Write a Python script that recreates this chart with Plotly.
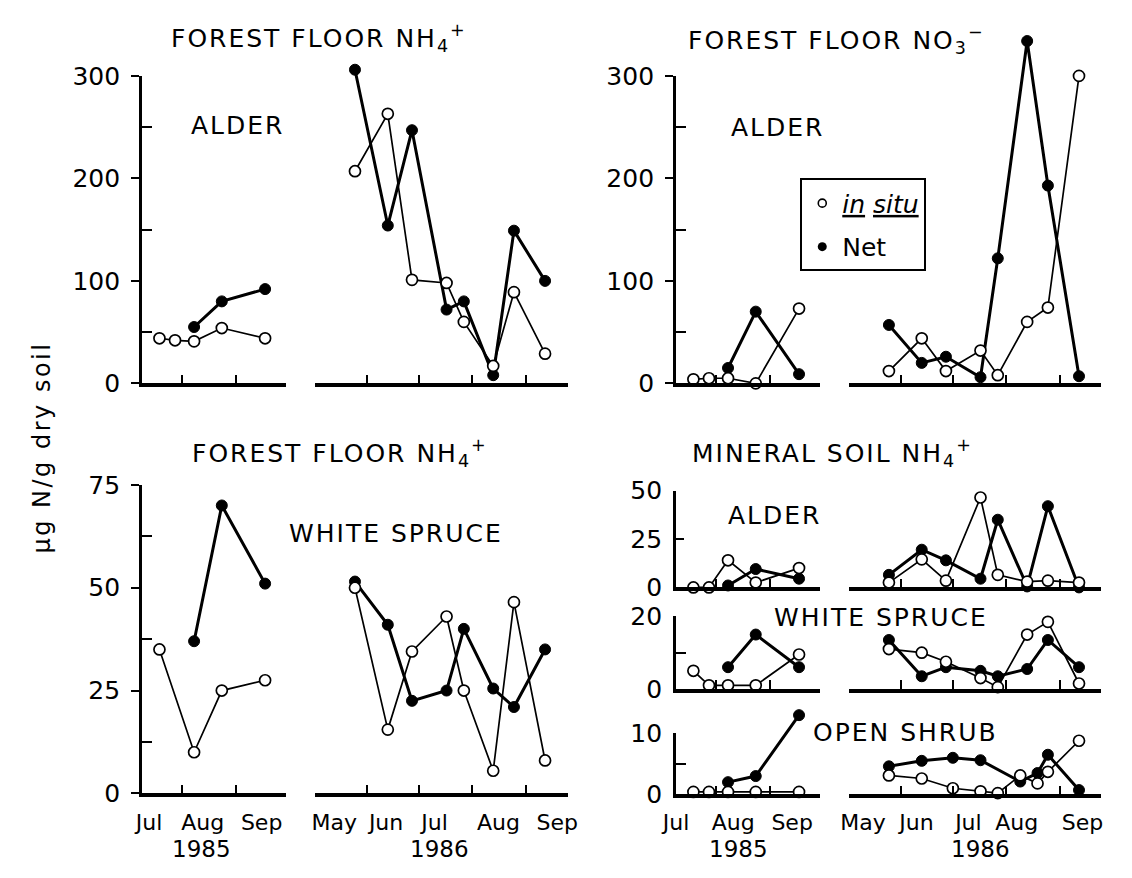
import plotly.graph_objects as go

# ======================= DATA =======================
DATES_1985_INSITU = ["1985-07-19", "1985-07-28", "1985-08-08", "1985-08-24", "1985-09-18"]
DATES_1985_NET = ["1985-08-08", "1985-08-24", "1985-09-18"]
DATES_1986 = ["1986-05-25", "1986-06-13", "1986-06-27", "1986-07-17",
              "1986-07-27", "1986-08-13", "1986-08-25", "1986-09-12"]
DATES_1986_SHRUB = ["1986-05-25", "1986-06-13", "1986-07-01", "1986-07-17", "1986-07-27",
                    "1986-08-09", "1986-08-19", "1986-08-25", "1986-09-12"]

MONTHS_1985 = ["Jul", "Aug", "Sep"]
MONTHS_1986 = ["May", "Jun", "Jul", "Aug", "Sep"]
MONTH_STARTS_1985 = ["1985-08-01", "1985-09-01"]
MONTH_STARTS_1986 = ["1986-06-01", "1986-07-01", "1986-08-01", "1986-09-01"]
YEARS = ["1985", "1986"]

# Forest floor NH4+, alder
FF_NH4_ALDER_INSITU_85 = [44, 42, 41, 54, 44]
FF_NH4_ALDER_NET_85 = [55, 80, 92]
FF_NH4_ALDER_INSITU_86 = [207, 263, 101, 98, 60, 17, 89, 29]
FF_NH4_ALDER_NET_86 = [306, 154, 247, 72, 80, 8, 149, 100]

# Forest floor NO3-, alder
FF_NO3_ALDER_INSITU_85 = [4, 5, 5, 0, 73]
FF_NO3_ALDER_NET_85 = [15, 70, 9]
FF_NO3_ALDER_INSITU_86 = [12, 44, 12, 32, 8, 60, 74, 300]
FF_NO3_ALDER_NET_86 = [57, 20, 26, 6, 122, 334, 193, 7]

# Forest floor NH4+, white spruce
FF_NH4_SPRUCE_INSITU_85 = [35, None, 10, 25, 27.5]
FF_NH4_SPRUCE_NET_85 = [37, 70, 51]
FF_NH4_SPRUCE_INSITU_86 = [50, 15.5, 34.5, 43, 25, 5.5, 46.5, 8]
FF_NH4_SPRUCE_NET_86 = [51.5, 41, 22.5, 25, 40, 25.5, 21, 35]

# Mineral soil NH4+, alder
MS_ALDER_INSITU_85 = [0, 0, 14, 2.5, 10]
MS_ALDER_NET_85 = [1, 9.5, 4.5]
MS_ALDER_INSITU_86 = [2.5, 14.5, 3.5, 46.5, 6.5, 3, 3.5, 2.5]
MS_ALDER_NET_86 = [6.5, 19.5, 14, 4.5, 35, 0.5, 42, 0]

# Mineral soil NH4+, white spruce
MS_SPRUCE_INSITU_85 = [5, 1, 1, 1, 9.5]
MS_SPRUCE_NET_85 = [6, 15, 6]
MS_SPRUCE_INSITU_86 = [11, 10, 7.5, 3, 0.5, 15, 18.5, 1.5]
MS_SPRUCE_NET_86 = [13.5, 3.5, 6, 5, 3.5, 5.5, 13.5, 6]

# Mineral soil NH4+, open shrub
MS_SHRUB_INSITU_85 = [0.4, 0.4, 0.4, 0.4, 0.4]
MS_SHRUB_NET_85 = [2, 3, 13]
MS_SHRUB_INSITU_86 = [3.1, 2.6, 1.0, 0.5, 0.2, 3.1, 1.8, 3.7, 8.8]
MS_SHRUB_NET_86 = [4.6, 5.5, 6.0, 5.6, None, 2.1, 3.5, 6.5, 0.7]

# ======================= LAYOUT =======================
W, H = 1132, 878
FONT = "DejaVu Sans"
BLACK = "black"


def fx(px):
    return px / W


def fy(py):
    return 1 - py / H


COLS = {
    "L": dict(x85=(130, 277), x86=(307, 565)),
    "R": dict(x85=(676, 823), x86=(853, 1111)),
}
RANGE_85 = ["1985-07-09", "1985-09-30"]
RANGE_86 = ["1986-05-02", "1986-09-25"]

panels = [
    dict(col="L", y0=382, ytop=64, axis_top=300, data_top=315,
         yticks=[0, 100, 200, 300], yminor=[50, 150, 250], major="outside",
         is85=FF_NH4_ALDER_INSITU_85, n85=FF_NH4_ALDER_NET_85,
         is86=FF_NH4_ALDER_INSITU_86, n86=FF_NH4_ALDER_NET_86, d86=DATES_1986,
         labels=None),
    dict(col="R", y0=382, ytop=64, axis_top=300, data_top=345,
         yticks=[0, 100, 200, 300], yminor=[50, 150, 250], major="outside",
         is85=FF_NO3_ALDER_INSITU_85, n85=FF_NO3_ALDER_NET_85,
         is86=FF_NO3_ALDER_INSITU_86, n86=FF_NO3_ALDER_NET_86, d86=DATES_1986,
         labels=None),
    dict(col="L", y0=806, ytop=487, axis_top=75, data_top=75,
         yticks=[0, 25, 50, 75], yminor=[12.5, 37.5, 62.5], major="outside",
         is85=FF_NH4_SPRUCE_INSITU_85, n85=FF_NH4_SPRUCE_NET_85,
         is86=FF_NH4_SPRUCE_INSITU_86, n86=FF_NH4_SPRUCE_NET_86, d86=DATES_1986,
         labels=(["1985-07-13", "1985-08-13", "1985-09-16"],
                 ["1986-05-13", "1986-06-12", "1986-07-10", "1986-08-16", "1986-09-19"])),
    dict(col="R", y0=593, ytop=493, axis_top=50, data_top=50,
         yticks=[0, 25, 50], yminor=[], major="inside",
         is85=MS_ALDER_INSITU_85, n85=MS_ALDER_NET_85,
         is86=MS_ALDER_INSITU_86, n86=MS_ALDER_NET_86, d86=DATES_1986,
         labels=None),
    dict(col="R", y0=698, ytop=623, axis_top=20, data_top=20,
         yticks=[0, 20], yminor=[10], major="inside",
         is85=MS_SPRUCE_INSITU_85, n85=MS_SPRUCE_NET_85,
         is86=MS_SPRUCE_INSITU_86, n86=MS_SPRUCE_NET_86, d86=DATES_1986,
         labels=None),
    dict(col="R", y0=807, ytop=744, axis_top=10, data_top=14,
         yticks=[0, 10], yminor=[5], major="inside",
         is85=MS_SHRUB_INSITU_85, n85=MS_SHRUB_NET_85,
         is86=MS_SHRUB_INSITU_86, n86=MS_SHRUB_NET_86, d86=DATES_1986_SHRUB,
         labels=(["1985-07-09", "1985-08-11", "1985-09-14"],
                 ["1986-05-10", "1986-06-10", "1986-07-10", "1986-08-07", "1986-09-14"])),
]

INSITU_MARKER = dict(symbol="circle", size=11, color="white", line=dict(color=BLACK, width=1.7))
NET_MARKER = dict(symbol="circle", size=11, color=BLACK, line=dict(color=BLACK, width=1))
INSITU_LINE = dict(color=BLACK, width=1.7)
NET_LINE = dict(color=BLACK, width=3)

fig = go.Figure()
layout = dict()


def axname(prefix, n):
    return prefix + ("" if n == 1 else str(n))


for i, p in enumerate(panels):
    c = COLS[p["col"]]
    xa85, xa86 = 2 * i + 1, 2 * i + 2
    yd, yt = 2 * i + 1, 2 * i + 2
    scale = (p["y0"] - p["ytop"]) / p["axis_top"]
    data_top_px = p["y0"] - p["data_top"] * scale

    # hidden data axis (may extend above the drawn axis)
    layout[axname("yaxis", yd)] = dict(
        domain=[fy(p["y0"]), fy(data_top_px)], range=[0, p["data_top"]],
        visible=False, anchor=axname("x", xa85), fixedrange=True)
    # visible tick axis
    layout[axname("yaxis", yt)] = dict(
        domain=[fy(p["y0"]), fy(p["ytop"])], range=[0, p["axis_top"]],
        anchor=axname("x", xa85), side="left",
        showline=True, linewidth=3, linecolor=BLACK,
        showgrid=False, zeroline=False,
        tickmode="array", tickvals=p["yticks"], ticktext=[str(v) for v in p["yticks"]],
        ticks=p["major"], ticklen=8, tickwidth=2, tickcolor=BLACK,
        ticklabelstandoff=6,
        minor=dict(tickmode="array", tickvals=p["yminor"], ticks="inside",
                   ticklen=10, tickwidth=2, tickcolor=BLACK, showgrid=False),
        tickfont=dict(size=25, color=BLACK, family=FONT), fixedrange=True)

    for xa, dom, rng, starts, yr in ((xa85, c["x85"], RANGE_85, MONTH_STARTS_1985, 0),
                                     (xa86, c["x86"], RANGE_86, MONTH_STARTS_1986, 1)):
        ax = dict(type="date", domain=[fx(dom[0]), fx(dom[1])], range=rng,
                  anchor=axname("y", yt), showline=True, linewidth=3.5, linecolor=BLACK,
                  showgrid=False, zeroline=False, ticks="",
                  minor=dict(tickmode="array", tickvals=starts, ticks="inside",
                             ticklen=9, tickwidth=1.6, tickcolor=BLACK, showgrid=False),
                  fixedrange=True)
        if p["labels"]:
            ax.update(tickmode="array", tickvals=p["labels"][yr],
                      ticktext=MONTHS_1985 if yr == 0 else MONTHS_1986,
                      showticklabels=True, ticklabelstandoff=6,
                      tickfont=dict(size=22, color=BLACK, family=FONT))
        else:
            ax.update(showticklabels=False)
        layout[axname("xaxis", xa)] = ax

    # empty trace registering the tick-axis subplot
    fig.add_trace(go.Scatter(x=[None], y=[None], xaxis=axname("x", xa85), yaxis=axname("y", yt),
                             showlegend=False, hoverinfo="skip"))

    series = [
        (DATES_1985_NET, p["n85"], xa85, NET_LINE, NET_MARKER),
        (DATES_1985_INSITU, p["is85"], xa85, INSITU_LINE, INSITU_MARKER),
        (p["d86"], p["n86"], xa86, NET_LINE, NET_MARKER),
        (p["d86"], p["is86"], xa86, INSITU_LINE, INSITU_MARKER),
    ]
    for dates, vals, xa, ln, mk in series:
        fig.add_trace(go.Scatter(
            x=dates, y=vals, mode="lines+markers", line=ln, marker=mk,
            connectgaps=True, cliponaxis=False, showlegend=False,
            xaxis=axname("x", xa), yaxis=axname("y", yd)))

# legend entries
fig.add_trace(go.Scatter(x=[None], y=[None], mode="markers", name="<i><u>in</u> <u>situ</u></i>",
                         marker=dict(symbol="circle", size=8, color="white",
                                     line=dict(color=BLACK, width=1.6)),
                         legendgroup="a"))
fig.add_trace(go.Scatter(x=[None], y=[None], mode="markers", name="Net",
                         marker=dict(symbol="circle", size=9, color=BLACK),
                         legendgroup="b"))


def ann(text, x, y, size=25, **kw):
    d = dict(text=text, x=fx(x), y=fy(y), xref="paper", yref="paper", showarrow=False,
             font=dict(size=size, color=BLACK, family=FONT), xanchor="center", yanchor="middle")
    d.update(kw)
    return d


def spaced(t, px=2.0):
    return '<span style="letter-spacing:%spx">' % px + t + "</span>"


annotations = [
    ann(spaced("FOREST FLOOR NH<sub>4</sub><sup>+</sup>"), 311, 25),
    ann(spaced("FOREST FLOOR NO<sub>3</sub><sup>−</sup>"), 840, 27),
    ann(spaced("FOREST FLOOR NH<sub>4</sub><sup>+</sup>"), 332, 454),
    ann(spaced("MINERAL SOIL NH<sub>4</sub><sup>+</sup>"), 836, 454),
    ann(spaced("ALDER"), 228, 115),
    ann(spaced("ALDER"), 780, 117),
    ann(spaced("WHITE SPRUCE"), 390, 537),
    ann(spaced("ALDER"), 777, 519),
    ann(spaced("WHITE SPRUCE"), 886, 624),
    ann(spaced("OPEN SHRUB"), 911, 743),
    ann(YEARS[0], 191, 878, size=23, yanchor="bottom", borderpad=0),
    ann(YEARS[1], 434, 878, size=23, yanchor="bottom", borderpad=0),
    ann(YEARS[0], 740, 878, size=23, yanchor="bottom", borderpad=0),
    ann(YEARS[1], 987, 878, size=23, yanchor="bottom", borderpad=0),
    ann(spaced("μg N/g dry soil", 2.5), 28, 448, size=24, textangle=-90),
]

layout.update(
    width=W, height=H, margin=dict(l=0, r=0, t=0, b=0),
    paper_bgcolor="white", plot_bgcolor="rgba(0,0,0,0)",
    font=dict(family=FONT, color=BLACK),
    showlegend=True,
    legend=dict(x=fx(803), y=fy(170), xanchor="left", yanchor="top",
                bordercolor=BLACK, borderwidth=2, bgcolor="white",
                font=dict(size=25, color=BLACK, family=FONT),
                traceorder="grouped", tracegroupgap=8, itemwidth=30),
    annotations=annotations,
)
fig.update_layout(**layout)
fig.write_html("out.html")
